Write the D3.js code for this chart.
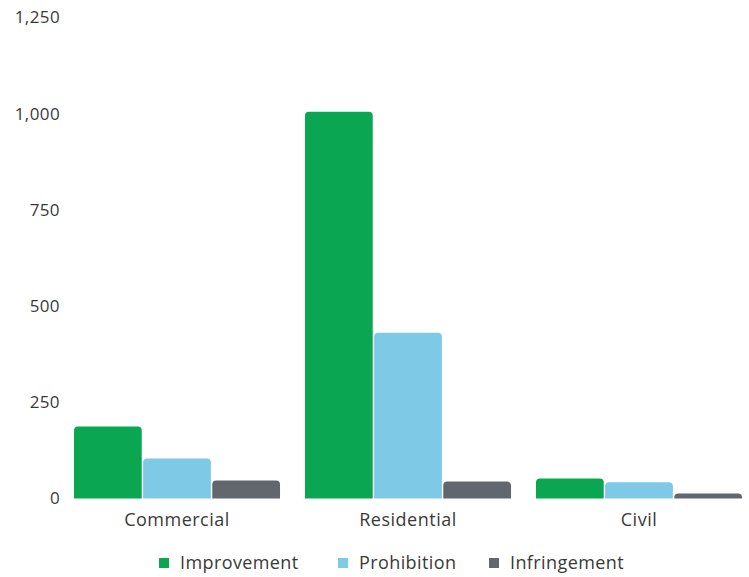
<!DOCTYPE html>
<html><head><meta charset="utf-8">
<script src="https://cdn.jsdelivr.net/npm/d3@7"></script>
<style>body{margin:0;background:#fff}svg{display:block}text{font-family:"Open Sans",Lato,sans-serif;fill:#3a3a3a}</style>
</head><body><svg id="c" width="749" height="577"></svg>
<script>
const categories = ["Commercial", "Residential", "Civil"];
const seriesNames = ["Improvement", "Prohibition", "Infringement"];
const improvement = [187, 1005, 52];
const prohibition = [104, 431, 42];
const infringement = [47, 44, 13];
const yTicks = [0, 250, 500, 750, 1000, 1250];
const colors = ["#0aa652", "#7ecae6", "#62666d"];

const seriesValues = [improvement, prohibition, infringement];
const svg = d3.select("#c");
const y = d3.scaleLinear().domain([0, 1250]).range([498.5, 17.5]);
const x0 = d3.scaleBand().domain(categories).range([61.5, 754.5]).paddingInner(0.108).paddingOuter(0.054);
const x1 = d3.scaleBand().domain(seriesNames).range([0, x0.bandwidth()]).paddingInner(0.02);

// y tick labels
svg.append("g").selectAll("text").data(yTicks).join("text")
  .attr("x", 60).attr("y", d => y(d)).attr("dy", "0.35em")
  .attr("text-anchor", "end").style("font-size", "17px").style("letter-spacing", "0.4px")
  .text(d => d3.format(",")(d));

function topRounded(x, yTop, w, h, r) {
  r = Math.min(r, h, w / 2);
  return `M${x},${yTop + h}V${yTop + r}Q${x},${yTop} ${x + r},${yTop}H${x + w - r}Q${x + w},${yTop} ${x + w},${yTop + r}V${yTop + h}Z`;
}

const groups = svg.append("g").selectAll("g").data(categories).join("g")
  .attr("transform", d => `translate(${x0(d)},0)`);
groups.selectAll("path").data((c, i) => seriesNames.map((s, j) => ({s, v: seriesValues[j][i], j})))
  .join("path")
  .attr("fill", d => colors[d.j])
  .attr("d", d => topRounded(x1(d.s), y(d.v), x1.bandwidth(), y(0) - y(d.v), 4));

// category labels
svg.append("g").selectAll("text").data(categories).join("text")
  .attr("x", d => x0(d) + x0.bandwidth() / 2).attr("y", 520).attr("dy", "0.35em")
  .attr("text-anchor", "middle").style("font-size", "18px").style("letter-spacing", "0.5px").text(d => d);

// legend
const legendX = [159, 338, 489];
const lg = svg.append("g").selectAll("g").data(seriesNames).join("g")
  .attr("transform", (d, i) => `translate(${legendX[i]},563)`);
lg.append("rect").attr("x", 0).attr("y", -5).attr("width", 10).attr("height", 10)
  .attr("fill", (d, i) => colors[i]);
lg.append("text").attr("x", 21).attr("dy", "0.35em").style("font-size", "18px").style("letter-spacing", "0.4px").text(d => d);
</script></body></html>
